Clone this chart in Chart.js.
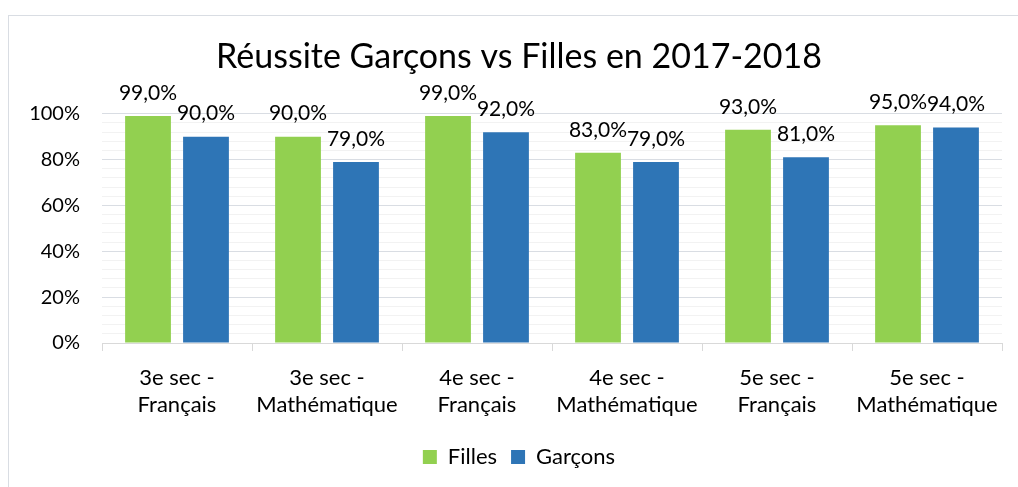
<!DOCTYPE html>
<html>
<head>
<meta charset="utf-8">
<script src="https://cdn.jsdelivr.net/npm/chart.js@4.4.1/dist/chart.umd.min.js"></script>
<style>
  html, body { margin: 0; padding: 0; background: #fff; }
  #wrap { position: relative; width: 1018px; height: 487px; }
</style>
</head>
<body>
<div id="wrap"><canvas id="c" width="1018" height="487"></canvas></div>
<script>
const categories = [
  ["3e sec -", "Français"],
  ["3e sec -", "Mathématique"],
  ["4e sec -", "Français"],
  ["4e sec -", "Mathématique"],
  ["5e sec -", "Français"],
  ["5e sec -", "Mathématique"]
];
const seriesNames = ["Filles", "Garçons"];
const filles = [99, 90, 99, 83, 93, 95];
const garcons = [90, 79, 92, 79, 81, 94];
const titleText = "Réussite Garçons vs Filles en 2017-2018";
const yMin = 0, yMax = 100, yMajorStep = 20, yMinorStep = 4;

const FONT = "Lato, 'Open Sans', sans-serif";

const frame = {
  id: 'frame',
  beforeDraw(chart) {
    const ctx = chart.ctx;
    ctx.save();
    ctx.fillStyle = '#fff';
    ctx.fillRect(0, 0, chart.width, chart.height);
    ctx.strokeStyle = '#d9dde3';
    ctx.lineWidth = 1;
    ctx.strokeRect(8.5, 15.5, 1030, 500);
    ctx.restore();
  }
};

const dataLabels = {
  id: 'dataLabels',
  afterDatasetsDraw(chart) {
    const ctx = chart.ctx;
    ctx.save();
    ctx.font = "21px " + FONT;
    ctx.fillStyle = '#000';
    ctx.textAlign = 'center';
    ctx.textBaseline = 'middle';
    chart.data.datasets.forEach((ds, i) => {
      const meta = chart.getDatasetMeta(i);
      meta.data.forEach((el, j) => {
        const txt = ds.data[j].toFixed(1).replace('.', ',') + '%';
        ctx.fillText(txt, el.x, el.y - 23);
      });
    });
    ctx.restore();
  }
};

new Chart(document.getElementById('c'), {
  type: 'bar',
  data: {
    labels: categories,
    datasets: [
      { label: seriesNames[0], data: filles, backgroundColor: '#92d050' },
      { label: seriesNames[1], data: garcons, backgroundColor: '#2e75b6' }
    ]
  },
  options: {
    responsive: false,
    animation: false,
    devicePixelRatio: 1,
    layout: { padding: { left: 36, right: 16, top: 0, bottom: 9 } },
    datasets: { bar: { categoryPercentage: 0.773, barPercentage: 0.79 } },
    plugins: {
      title: {
        display: true,
        text: titleText,
        color: '#000',
        font: { family: FONT, size: 34, weight: 'normal', lineHeight: 1.2 },
        padding: { top: 37, bottom: 36 }
      },
      legend: {
        position: 'bottom',
        labels: {
          color: '#000',
          font: { family: FONT, size: 22 },
          boxWidth: 14,
          boxHeight: 14,
          padding: 14
        }
      },
      tooltip: { enabled: false }
    },
    scales: {
      x: {
        grid: { display: true, drawOnChartArea: false, drawTicks: true, tickLength: 8, color: '#d9d9d9' },
        border: { display: true, color: '#d9d9d9' },
        ticks: { color: '#000', font: { family: FONT, size: 22, lineHeight: 1.23 }, padding: 13, maxRotation: 0, autoSkip: false },
        afterFit(scale) { scale.height = 89; }
      },
      y: {
        min: yMin,
        max: yMax,
        border: { display: false },
        grid: {
          drawTicks: false,
          color: (c) => (c.tick && c.tick.value % yMajorStep === 0) ? '#d9dde3' : '#f2f2f2'
        },
        ticks: {
          stepSize: yMinorStep,
          autoSkip: false,
          color: '#000',
          padding: 22,
          font: { family: FONT, size: 20 },
          callback: (v) => (v % yMajorStep === 0) ? v + '%' : ''
        },
        afterFit(scale) {
          scale.width = 66;
          scale._computeLabelArea = () => undefined;
        }
      }
    }
  },
  plugins: [frame, dataLabels]
});
</script>
</body>
</html>
